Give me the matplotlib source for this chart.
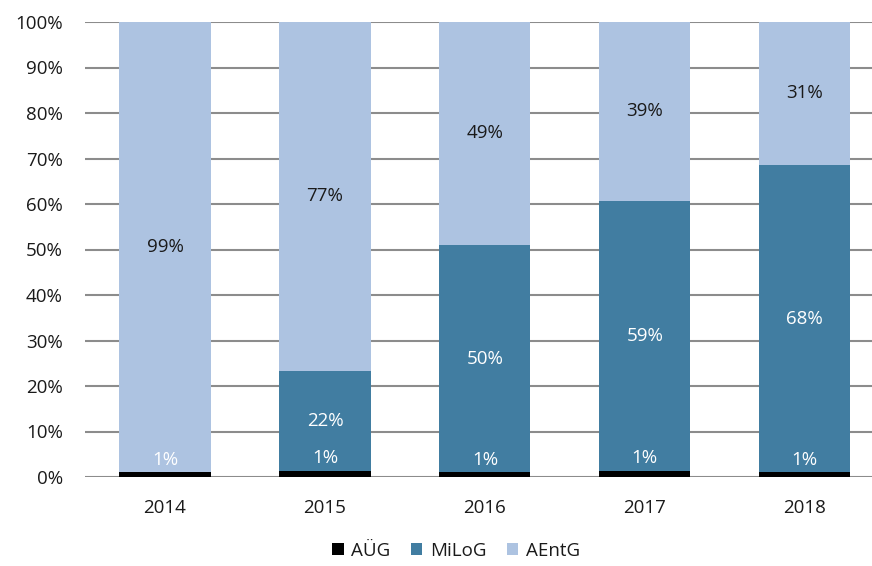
import numpy as np
import matplotlib.pyplot as plt

plt.rcParams['font.family'] = ['Open Sans', 'DejaVu Sans']

# Anteile je Jahr (in %)
jahre = ['2014', '2015', '2016', '2017', '2018']
aueg = [1.0, 1.4, 1.0, 1.3, 1.0]
milog = [0.0, 22.0, 50.0, 59.4, 67.6]
aentg = [99.0, 76.6, 49.0, 39.3, 31.4]

c_aueg = '#000000'
c_milog = '#417da1'
c_aentg = '#adc3e1'
fs = 13.5

fig = plt.figure(figsize=(8.72, 5.66), dpi=100)
ax = fig.add_axes([85 / 872, 89 / 566, 787 / 872, 455 / 566])

x = np.arange(len(jahre))
w = 0.57
b1 = np.array(aueg)
b2 = b1 + np.array(milog)

ax.bar(x, aueg, w, color=c_aueg, label='AÜG', zorder=3)
ax.bar(x, milog, w, bottom=b1, color=c_milog, label='MiLoG', zorder=3)
ax.bar(x, aentg, w, bottom=b2, color=c_aentg, label='AEntG', zorder=3)

# Beschriftungen
for i in range(len(jahre)):
    ax.text(x[i], b1[i] + 2.8, f'{aueg[i]:.0f}%', ha='center', va='center',
            color='white', fontsize=fs, zorder=4)
    if milog[i] > 0:
        ax.text(x[i], b1[i] + milog[i] / 2, f'{milog[i]:.0f}%', ha='center', va='center',
                color='white', fontsize=fs, zorder=4)
    ax.text(x[i], b2[i] + aentg[i] / 2, f'{aentg[i]:.0f}%', ha='center', va='center',
            color='#1a1a1a', fontsize=fs, zorder=4)

ax.set_ylim(0, 100)
ax.set_xlim(-0.5, 4.42)
ax.set_yticks(np.arange(0, 101, 10))
ax.set_yticklabels([f'{v}%' for v in range(0, 101, 10)])
ax.set_xticks(x)
ax.set_xticklabels(jahre)
ax.tick_params(axis='both', length=0, labelsize=fs, colors='#1a1a1a')
ax.tick_params(axis='y', pad=16)
ax.tick_params(axis='x', pad=16)
ax.yaxis.grid(True, color='#8c8c8c', linewidth=1.5, zorder=0)
ax.set_axisbelow(True)
for s in ax.spines.values():
    s.set_visible(False)

fig.legend(loc='center', bbox_to_anchor=(456 / 872, 15 / 566), ncol=3, frameon=False,
           fontsize=fs, handlelength=0.6, handleheight=0.6, handletextpad=0.4,
           columnspacing=1.1, labelcolor='#1a1a1a')

fig.savefig('out.png', dpi=100)
